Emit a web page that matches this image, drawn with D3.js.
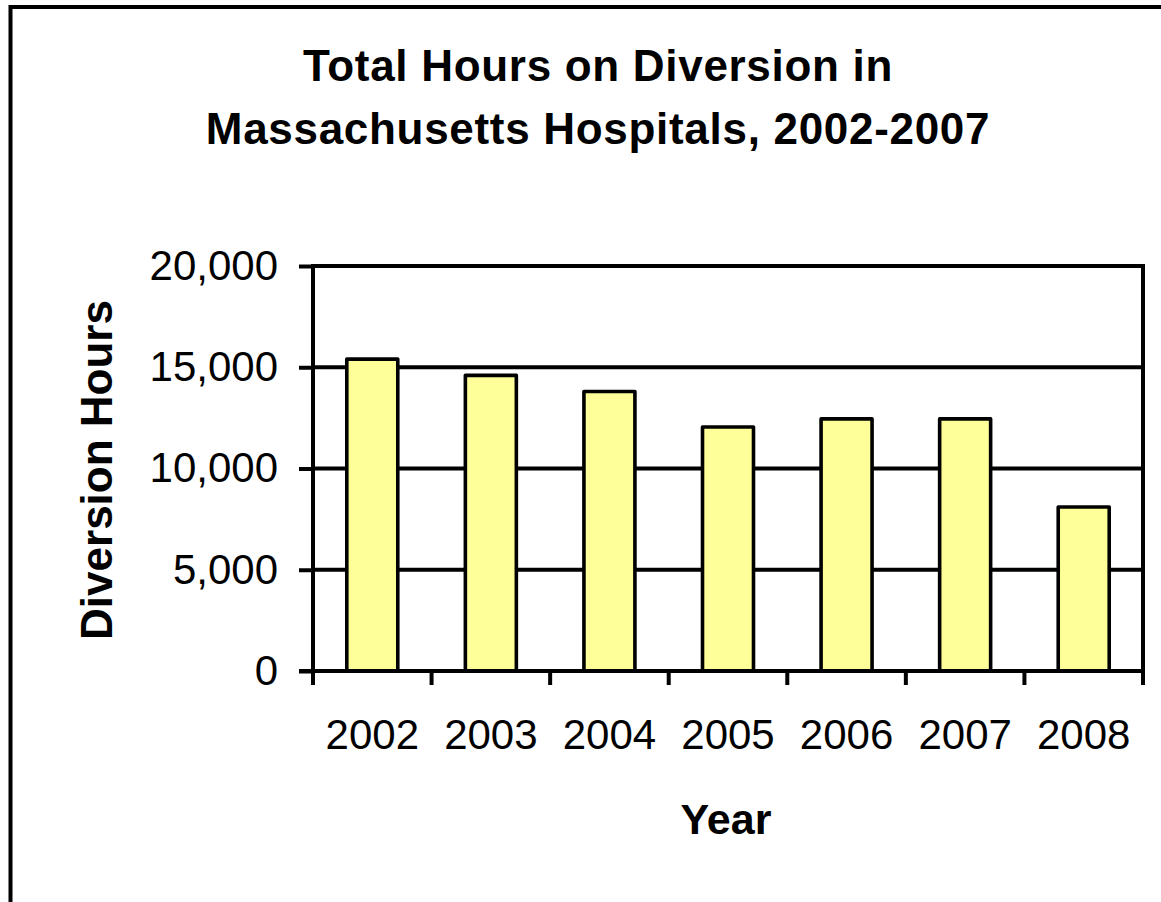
<!DOCTYPE html>
<html>
<head>
<meta charset="utf-8">
<script src="https://cdn.jsdelivr.net/npm/d3@7"></script>
<style>
  html, body { margin: 0; padding: 0; background: #fff; }
  svg { display: block; }
  text { font-family: "Liberation Sans", Arial, sans-serif; fill: #000; }
</style>
</head>
<body>
<svg id="chart" width="1161" height="902"></svg>
<script>
const years = ["2002", "2003", "2004", "2005", "2006", "2007", "2008"];
const hours = [15400, 14600, 13800, 12050, 12450, 12450, 8100];
const yTicks = [0, 5000, 10000, 15000, 20000];
const titleLines = ["Total Hours on Diversion in", "Massachusetts Hospitals, 2002-2007"];
const yTitle = "Diversion Hours";
const xTitle = "Year";

(function () {
const svg = d3.select("#chart");
const pLeft = 313, pRight = 1143, pTop = 266, pBottom = 671;
const lw = 4, bw = 3.6;

// outer frame
svg.append("rect")
  .attr("x", 10.5).attr("y", 7).attr("width", 1300).attr("height", 1100)
  .attr("fill", "none").attr("stroke", "#000").attr("stroke-width", 4);

// title
svg.append("g").selectAll("text").data(titleLines).join("text")
  .attr("x", 598)
  .attr("y", (d, i) => 81 + i * 63)
  .attr("text-anchor", "middle")
  .attr("font-size", 44)
  .attr("font-weight", "bold")
  .attr("letter-spacing", 0.7)
  .text(d => d);

const x = d3.scaleBand().domain(years).range([pLeft, pRight])
  .paddingInner(0.57).paddingOuter(0.285);
const y = d3.scaleLinear().domain([0, 20000]).range([pBottom, pTop]);

// gridlines
svg.append("g").selectAll("line").data(yTicks.filter(d => d > 0)).join("line")
  .attr("x1", pLeft).attr("x2", pRight)
  .attr("y1", d => y(d)).attr("y2", d => y(d))
  .attr("stroke", "#000").attr("stroke-width", lw);

// right border of plot area
svg.append("line")
  .attr("x1", pRight).attr("x2", pRight).attr("y1", y(20000) - lw / 2).attr("y2", y(0))
  .attr("stroke", "#000").attr("stroke-width", lw);

// bars
svg.append("g").selectAll("rect").data(years).join("rect")
  .attr("x", d => x(d))
  .attr("y", (d, i) => y(hours[i]))
  .attr("width", x.bandwidth())
  .attr("height", (d, i) => y(0) - y(hours[i]))
  .attr("fill", "#FFFF99")
  .attr("stroke", "#000")
  .attr("stroke-width", bw)
  .attr("stroke-linejoin", "round");

// y axis
const yAxis = svg.append("g")
  .attr("transform", `translate(${pLeft},0)`)
  .call(d3.axisLeft(y).tickValues(yTicks).tickSize(14).tickPadding(21)
    .tickFormat(d3.format(",")));
yAxis.select(".domain").attr("stroke", "#000").attr("stroke-width", lw)
  .attr("d", `M0,${pTop - lw / 2}V${pBottom + 14}`);
yAxis.selectAll(".tick line").attr("stroke", "#000").attr("stroke-width", lw);
yAxis.selectAll(".tick text").attr("font-size", 42)
  .attr("font-family", "Liberation Sans, Arial, sans-serif");

// x axis
const xAxis = svg.append("g")
  .attr("transform", `translate(0,${pBottom})`)
  .call(d3.axisBottom(x).tickSize(0).tickPadding(48));
xAxis.select(".domain").attr("stroke", "#000").attr("stroke-width", lw)
  .attr("d", `M${pLeft - 14},0H${pRight + lw / 2}`);
xAxis.selectAll(".tick text").attr("font-size", 42)
  .attr("font-family", "Liberation Sans, Arial, sans-serif");

// x tick marks at category boundaries
const bounds = years.map(d => x(d) - x.step() * x.paddingOuter()).concat([pRight]);
svg.append("g").selectAll("line").data(bounds).join("line")
  .attr("x1", d => d).attr("x2", d => d)
  .attr("y1", pBottom).attr("y2", pBottom + 14)
  .attr("stroke", "#000").attr("stroke-width", lw);

// axis titles
svg.append("text")
  .attr("transform", `translate(112,470) rotate(-90)`)
  .attr("text-anchor", "middle")
  .attr("font-size", 44).attr("font-weight", "bold")
  .text(yTitle);

svg.append("text")
  .attr("x", 726).attr("y", 834)
  .attr("text-anchor", "middle")
  .attr("font-size", 43).attr("font-weight", "bold")
  .text(xTitle);
})();
</script>
</body>
</html>
